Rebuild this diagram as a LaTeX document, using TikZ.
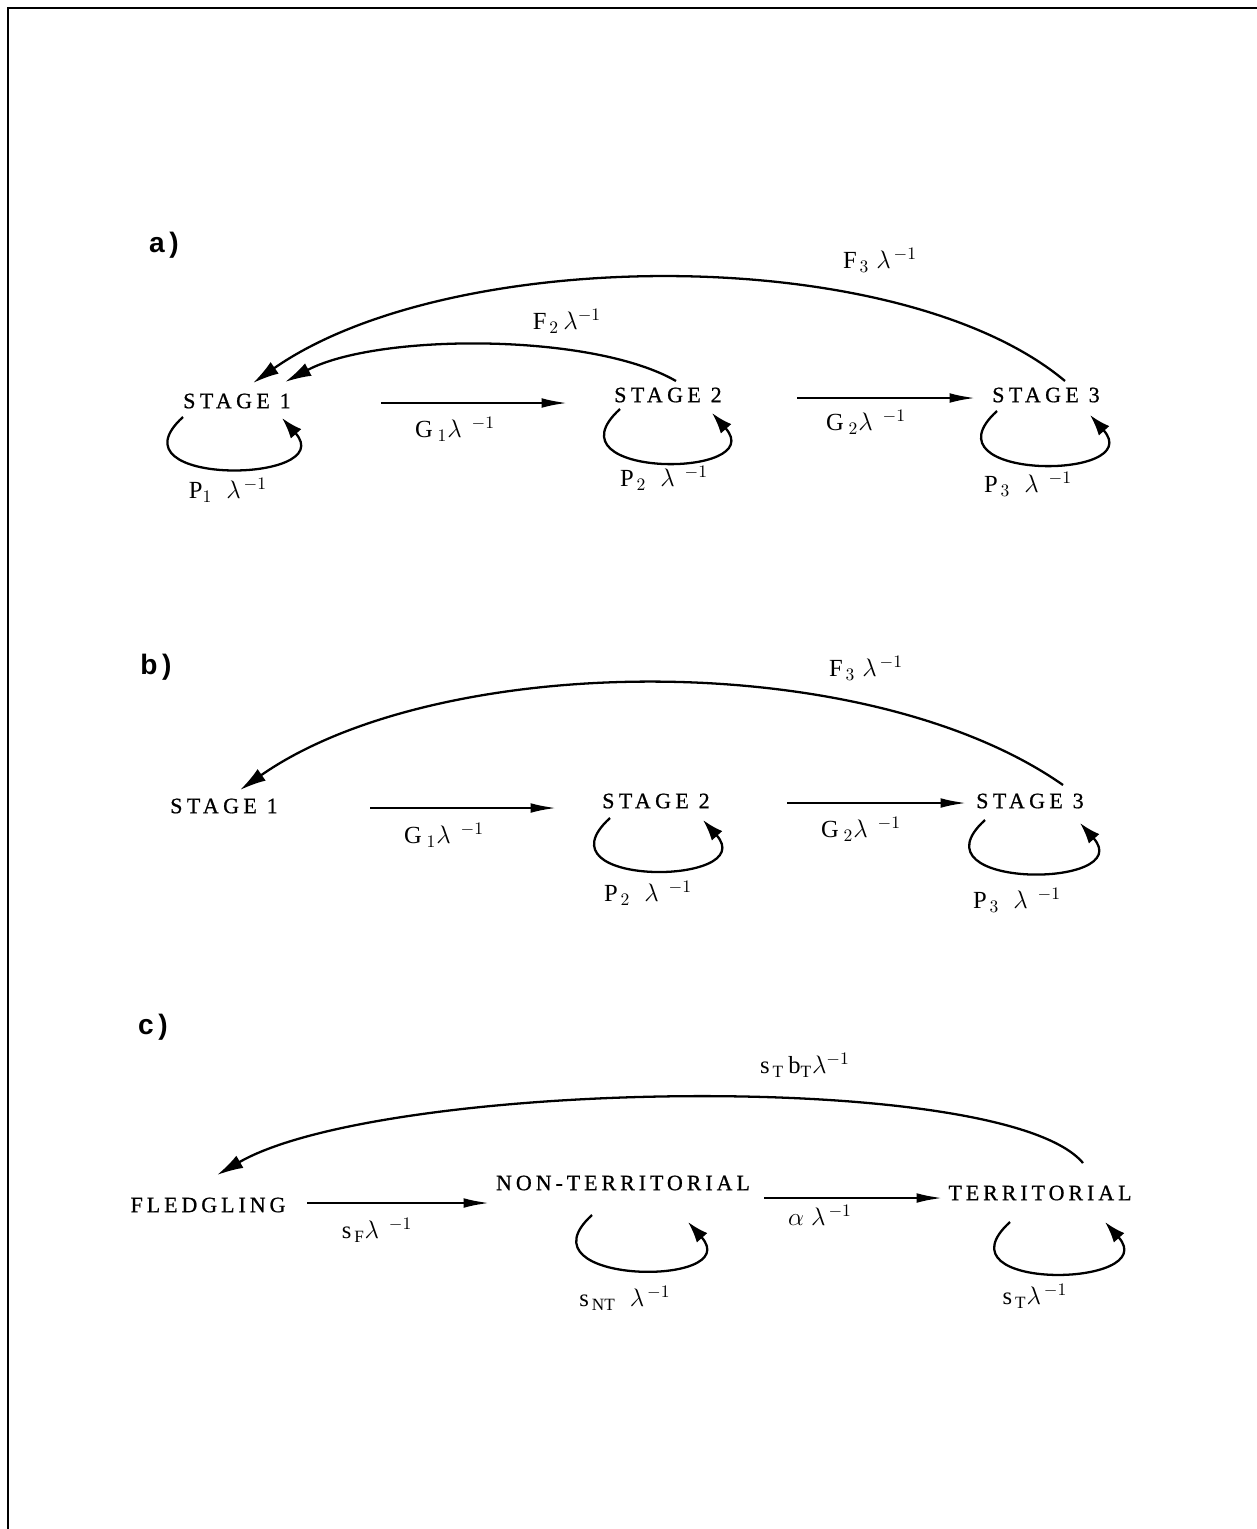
\documentclass[tikz,border=0pt]{standalone}
\usepackage{amsmath}
\usepackage{fontspec}
\setmainfont{Liberation Serif}
\newfontfamily\stagefont[LetterSpace=20,FakeBold=0.8]{Liberation Serif}
\newfontfamily\classfont[LetterSpace=18,FakeBold=0.8]{Liberation Serif}
\newfontfamily\panelfont{Liberation Sans}
\usepackage{tikz}
\usetikzlibrary{arrows.meta}
\usetikzlibrary{positioning}
\tikzset{
	stagenode/.style={inner sep=0pt, font=\fontsize{12.5}{14}\stagefont},
	classnode/.style={inner sep=0pt, font=\fontsize{12.5}{14}\classfont},
	ratenode/.style={inner sep=0pt, font=\fontsize{14}{16}\selectfont},
	panelnode/.style={inner sep=0pt, font=\fontsize{16}{18}\panelfont\bfseries}
}
\tikzset{
	flow/.style={-{Latex[length=15pt,width=5.5pt]}, line width=1.5pt},
	backarc/.style={-{Latex[length=15pt,width=8pt]}, line width=1.3pt},
	selfloop/.style={-{Latex[length=12pt,width=8pt]}, line width=1.3pt,
		to path={.. controls +(-77,-70) and +(59,-66) .. (\tikztotarget)}}
}

\begin{document}
\begin{tikzpicture}[x=0.02cm, y=0.02cm]
	\useasboundingbox (0,0) rectangle (1257,-1529);
	\draw[line width=1.6pt] (1257,-8) -- (8,-8) -- (8,-1529);
	
	%panel a
	\node[panelnode] at (164,-245) (pa) {a\,)};
	\node[stagenode] at (237,-401) (s1a) {STAGE 1};
	\node[stagenode] at (668,-395) (s2a) {STAGE 2};
	\node[stagenode] at (1046,-395) (s3a) {STAGE 3};
	
	\node[ratenode] at (455,-429) (g1a) {$\mathrm{G}_{\;1}\lambda^{\;\;-1}$};
	\node[ratenode] at (866,-422) (g2a) {$\mathrm{G}_{\;2}\lambda^{\;\;-1}$};
	\node[ratenode] at (567,-321) (f2a) {$\mathrm{F}_{\,2}\,\lambda^{-1}$};
	\node[ratenode] at (880,-260) (f3a) {$\mathrm{F}_{\,3}\;\lambda^{\,-1}$};
	\node[ratenode] at (228,-490) (p1a) {$\mathrm{P}_{1}\;\;\lambda^{\,-1}$};
	\node[ratenode] at (664,-478) (p2a) {$\mathrm{P}_{\,2}\;\;\lambda^{\;\;-1}$};
	\node[ratenode] at (1028,-484) (p3a) {$\mathrm{P}_{\,3}\;\;\lambda^{\;\;-1}$};
	
	%Lines
	\draw[flow] ([shift={(144,-2)}]s1a.center) -- ([shift={(-100,-8)}]s2a.center);
	\draw[flow] ([shift={(129,-3)}]s2a.center) -- ([shift={(-70,-3)}]s3a.center);
	\draw[backarc] ([shift={(8,14)}]s2a.center) .. controls +(150:97) and +(28:104) .. ([shift={(48,19)}]s1a.center);
	\draw[backarc] ([shift={(19,14)}]s3a.center) .. controls +(140:216) and +(35:242) .. ([shift={(16,18)}]s1a.center);
	\draw[selfloop] ([shift={(-54,-16)}]s1a.center) to ([shift={(45,-17)}]s1a.center);
	\draw[selfloop] ([shift={(-48,-14)}]s2a.center) to ([shift={(44,-18)}]s2a.center);
	\draw[selfloop] ([shift={(-49,-16)}]s3a.center) to ([shift={(44,-20)}]s3a.center);
	
	%panel b
	\node[panelnode] at (156,-667) (pb) {b\,)};
	\node[stagenode] at (224,-806) (s1b) {STAGE 1};
	\node[stagenode] at (656,-801) (s2b) {STAGE 2};
	\node[stagenode] at (1030,-801) (s3b) {STAGE 3};
	
	\node[ratenode] at (444,-835) (g1b) {$\mathrm{G}_{\;1}\lambda^{\;\;-1}$};
	\node[ratenode] at (861,-829) (g2b) {$\mathrm{G}_{\;2}\lambda^{\;\;-1}$};
	\node[ratenode] at (866,-668) (f3b) {$\mathrm{F}_{\,3}\;\lambda^{\,-1}$};
	\node[ratenode] at (648,-893) (p2b) {$\mathrm{P}_{\,2}\;\;\lambda^{\;\;-1}$};
	\node[ratenode] at (1017,-900) (p3b) {$\mathrm{P}_{\,3}\;\;\lambda^{\;\;-1}$};
	
	%Lines
	\draw[flow] ([shift={(146,-2)}]s1b.center) -- ([shift={(-99,-7)}]s2b.center);
	\draw[flow] ([shift={(131,-2)}]s2b.center) -- ([shift={(-63,-2)}]s3b.center);
	\draw[backarc] ([shift={(33,16)}]s3b.center) .. controls +(145:242) and +(35:242) .. ([shift={(16,16)}]s1b.center);
	\draw[selfloop] ([shift={(-46,-17)}]s2b.center) to ([shift={(47,-19)}]s2b.center);
	\draw[selfloop] ([shift={(-45,-19)}]s3b.center) to ([shift={(50,-22)}]s3b.center);
	
	%panel c
	\node[panelnode] at (153,-1027) (pc) {c\,)};
	\node[classnode] at (208,-1205) (fl) {FLEDGLING};
	\node[classnode] at (623,-1183) (nt) {NON-TERRITORIAL};
	\node[classnode] at (1040,-1193) (te) {TERRITORIAL};
	
	\node[ratenode] at (377,-1230) (sf) {$\mathrm{s}_{\mathrm{\,F}}\lambda^{\;\;-1}$};
	\node[ratenode] at (820,-1215) (al) {$\alpha\;\lambda^{\,-1}$};
	\node[ratenode] at (805,-1065) (sb) {$\mathrm{s}_{\mathrm{\,T}}\,\mathrm{b}_{\mathrm{T}}\lambda^{-1}$};
	\node[ratenode] at (625,-1298) (snt) {$\mathrm{s}_{\mathrm{\,NT}}\;\;\lambda^{\,-1}$};
	\node[ratenode] at (1035,-1296) (st) {$\mathrm{s}_{\mathrm{\,T}}\lambda^{\,-1}$};
	
	%Lines
	\draw[flow] ([shift={(99,2)}]fl.center) -- ([shift={(-133,-20)}]nt.center);
	\draw[flow] ([shift={(141,-15)}]nt.center) -- ([shift={(-97,-5)}]te.center);
	\draw[backarc] ([shift={(43,30)}]te.center) .. controls +(130:124) and +(30:190) .. ([shift={(9,30)}]fl.center);
	\draw[selfloop] ([shift={(-31,-32)}]nt.center) to ([shift={(65,-39)}]nt.center);
	\draw[selfloop] ([shift={(-30,-29)}]te.center) to ([shift={(65,-29)}]te.center);
\end{tikzpicture}
\end{document}
